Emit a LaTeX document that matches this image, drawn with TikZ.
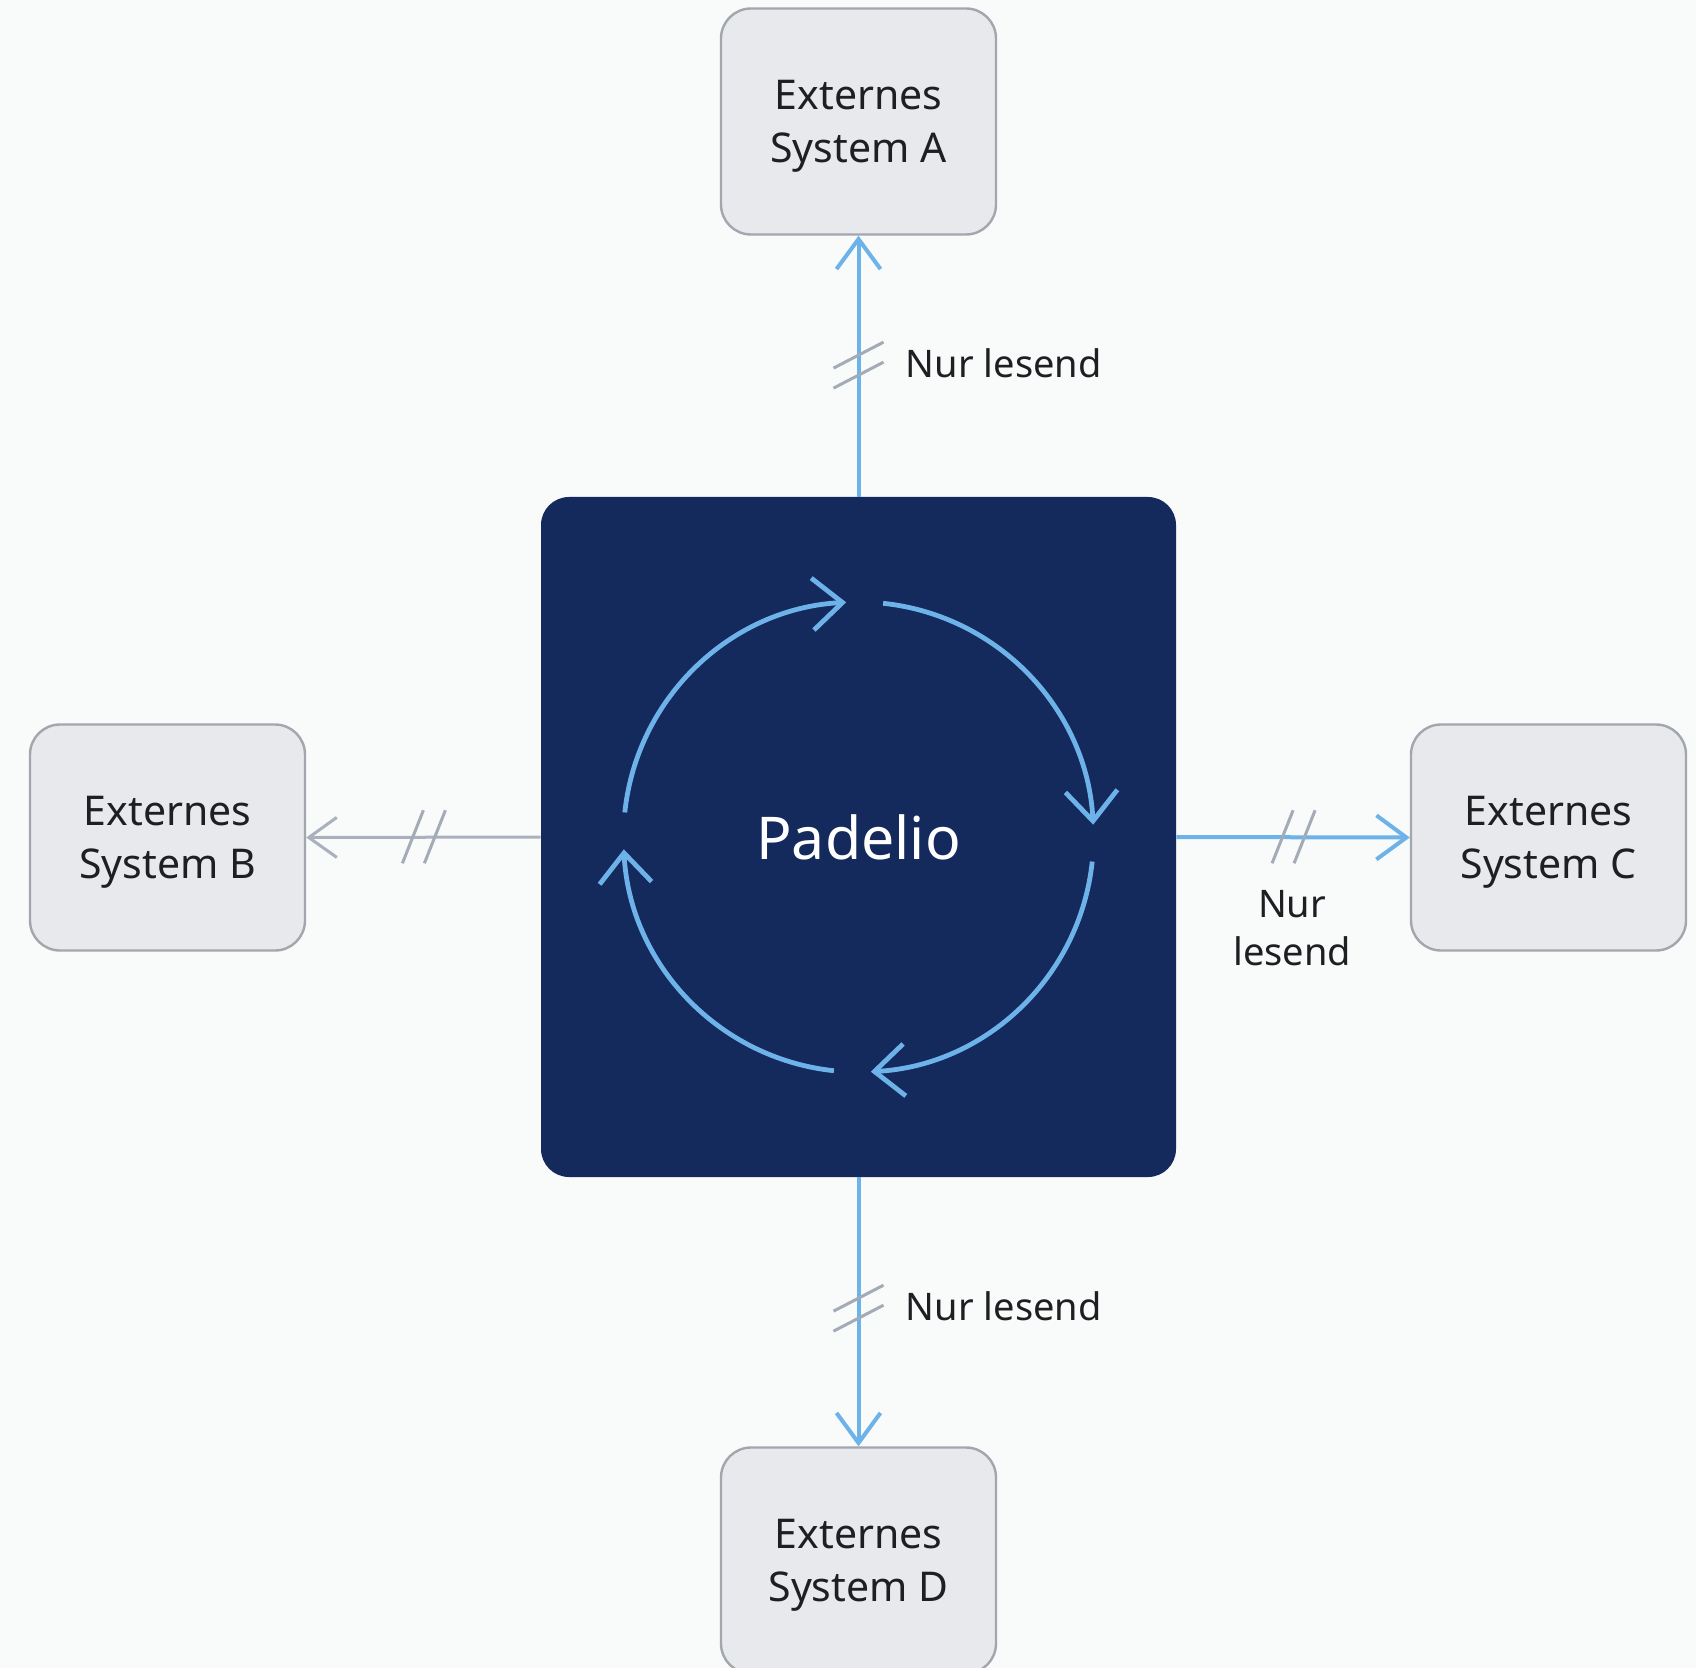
\documentclass[tikz,border=0pt]{standalone}
\usepackage{fontspec}
\setmainfont{Noto Sans}
\usetikzlibrary{arrows.meta,calc}
\definecolor{bgc}{HTML}{F9FAFA}
\definecolor{navy}{HTML}{14295C}
\definecolor{sky}{HTML}{6DB3EA}
\definecolor{boxfill}{HTML}{E8E9EC}
\definecolor{boxline}{HTML}{A2A6AD}
\definecolor{slashc}{HTML}{A3ABB6}
\definecolor{grayarrow}{HTML}{AAB1BC}
\definecolor{txt}{HTML}{1E1F22}
\begin{document}
\begin{tikzpicture}[x=0.5pt,y=-0.5pt,
  extbox/.style={draw=boxline, line width=1.2pt, fill=boxfill, rounded corners=15pt,
    minimum width=137.5pt, minimum height=113pt, align=center, inner sep=0pt,
    font=\fontsize{20.5pt}{26.5pt}\selectfont, text=txt, text depth=0pt},
  core/.style={fill=navy, rounded corners=14pt, minimum width=317.5pt, minimum height=340pt,
    inner sep=0pt, text=white, font=\fontsize{29.5pt}{34pt}\selectfont, text depth=0pt},
  conn/.style={draw=sky, line width=2pt, -{Straight Barb[length=15pt,width=22pt]}},
  grayconn/.style={draw=grayarrow, line width=1.5pt, -{Straight Barb[length=14pt,width=20pt]}},
  arcst/.style={draw=sky, line width=2.4pt, -{Straight Barb[length=15pt,width=26pt]}},
  slashmark/.style={draw=slashc, line width=1.5pt},
  lbl/.style={inner sep=0pt, text=txt, font=\fontsize{19pt}{24pt}\selectfont}
]
\fill[bgc] (0,0) rectangle (1696,1668);
\useasboundingbox (0,0) rectangle (1696,1668);
\clip (0,0) rectangle (1696,1668);

\node[core] (core) at (858.5,837) {Padelio};
\node[extbox] (A) at (858.5,121.5) {Externes\\System A};
\node[extbox] (B) at (167.5,837.5) {Externes\\System B};
\node[extbox] (C) at (1548.5,837.5) {Externes\\System C};
\node[extbox] (D) at (858.5,1560.5) {Externes\\System D};

% connectors
\draw[conn] (core.north) -- (A.south);
\draw[conn] (core.south) -- (D.north);
\draw[conn] (core.east) -- (C.west);
\draw[grayconn] (core.west) -- (B.east);

% slash positions
\path (core.north) -- (A.south) coordinate[pos=0.5] (sA);
\path (core.south) -- (D.north) coordinate[pos=0.49] (sD);
\path (core.west) -- (B.east) coordinate[pos=0.5] (sB);
\path (core.east) -- (C.west) coordinate[pos=0.5] (sC);

\foreach \s in {sA,sD}{
  \draw[slashmark] ($(\s)+(-25,2)$) -- ($(\s)+(25,-24)$);
  \draw[slashmark] ($(\s)+(-25,22)$) -- ($(\s)+(25,-4)$);
}
\foreach \s in {sB,sC}{
  \draw[slashmark] ($(\s)+(-21,26)$) -- ($(\s)+(0,-27)$);
  \draw[slashmark] ($(\s)+(1,26)$) -- ($(\s)+(22,-27)$);
}

\node[lbl, anchor=base west] (lA) at ($(sA)+(47,11)$) {Nur lesend};
\node[lbl, anchor=base west] (lD) at ($(sD)+(47,11)$) {Nur lesend};
\node[lbl, anchor=north, align=center] (lC) at ($(sC)+(-1,53)$) {Nur\\lesend};

% cycle arrows
\coordinate (cc) at (core.center);
\foreach \k in {0,1,2,3}{
  \draw[arcst] (cc) ++({-174+90*\k}:235) arc[start angle={-174+90*\k}, end angle={-93+90*\k}, radius=235];
}
\end{tikzpicture}
\end{document}
